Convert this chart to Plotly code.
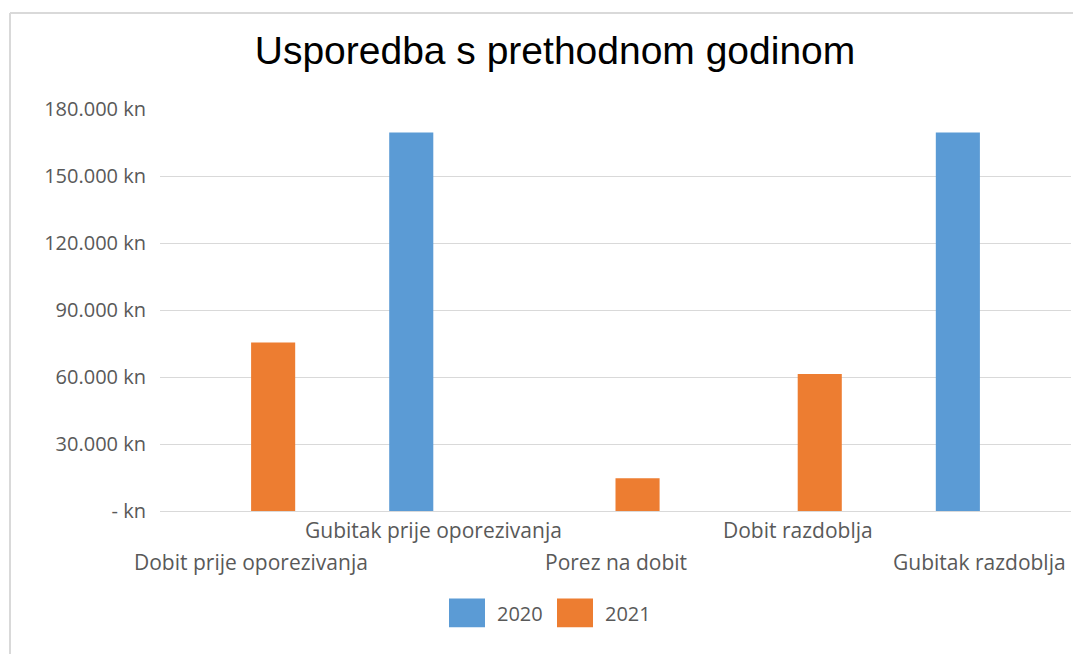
import plotly.graph_objects as go

categories = ["Dobit prije oporezivanja", "Gubitak prije oporezivanja", "Porez na dobit",
              "Dobit razdoblja", "Gubitak razdoblja"]
series_names = ["2020", "2021"]
values_2020 = [0, 169500, 0, 0, 169500]
values_2021 = [75400, 0, 14700, 61300, 0]
tick_values = [0, 30000, 60000, 90000, 120000, 150000, 180000]
tick_labels = ["- kn", "30.000 kn", "60.000 kn", "90.000 kn", "120.000 kn", "150.000 kn", "180.000 kn"]
colors = ["#5B9BD5", "#ED7D31"]

OFF = 8  # page body margin
W, H = 1081 - OFF, 654 - OFF
L = 160 - OFF
T = 109 - OFF
R = W - (1071 - OFF)
B = H - (511.5 - OFF)
PW, PH = W - L - R, H - T - B

def px_x(p):
    return (p - OFF - L) / PW

def px_y(p):
    return (H - B - (p - OFF)) / PH

FONT = "Open Sans"
GRAY = "#595959"

fig = go.Figure()
for name, vals, col in zip(series_names, [values_2020, values_2021], colors):
    fig.add_trace(go.Bar(x=categories, y=vals, name=name, marker=dict(color=col, line=dict(width=0)),
                         showlegend=False))

annotations = []
for i, c in enumerate(categories):
    row_y = 531 if i % 2 == 1 else 563
    annotations.append(dict(x=c, xref="x", y=px_y(row_y), yref="paper", text=c, showarrow=False,
                            xanchor="center", yanchor="middle",
                            font=dict(family=FONT, size=21, color=GRAY)))

shapes = []
legend_boxes = [(449, 485), (557, 593)]
legend_text_x = [495, 603]
for (x0, x1), name, col, tx in zip(legend_boxes, series_names, colors, legend_text_x):
    shapes.append(dict(type="rect", xref="paper", yref="paper", x0=px_x(x0), x1=px_x(x1),
                       y0=px_y(628), y1=px_y(599), fillcolor=col, line=dict(width=0)))
    annotations.append(dict(x=px_x(tx), xref="paper", y=px_y(614), yref="paper", text=name,
                            showarrow=False, xanchor="left", yanchor="middle",
                            font=dict(family=FONT, size=20, color=GRAY)))

# chart frame (top and left edges visible)
shapes.append(dict(type="line", xref="paper", yref="paper", x0=px_x(10), x1=px_x(1090),
                   y0=px_y(13), y1=px_y(13), line=dict(color="#D9D9D9", width=2)))
shapes.append(dict(type="line", xref="paper", yref="paper", x0=px_x(10), x1=px_x(10),
                   y0=px_y(13), y1=px_y(660), line=dict(color="#D9D9D9", width=2)))

fig.update_layout(
    width=W, height=H,
    margin=dict(l=L, r=R, t=T, b=B),
    paper_bgcolor="white", plot_bgcolor="white",
    barmode="group", bargap=0.516, bargroupgap=0,
    title=dict(text="Usporedba s prethodnom godinom", x=(555 - OFF) / W, xanchor="center",
               y=1 - (50 - OFF) / H, yanchor="middle",
               font=dict(family="Liberation Sans", size=39, color="#000000")),
    xaxis=dict(range=[-0.5, len(categories) - 0.5], autorange=False,
               showticklabels=False, showgrid=False, showline=True, linecolor="#D9D9D9",
               linewidth=1, ticks=""),
    yaxis=dict(range=[0, 180000], tickvals=tick_values, ticktext=tick_labels,
               showgrid=True, gridcolor="#D9D9D9", gridwidth=1, zeroline=False,
               showline=False, ticks="", ticklabelstandoff=13,
               tickfont=dict(family=FONT, size=20, color=GRAY)),
    annotations=annotations,
    shapes=shapes,
)

fig.write_html("out.html")
